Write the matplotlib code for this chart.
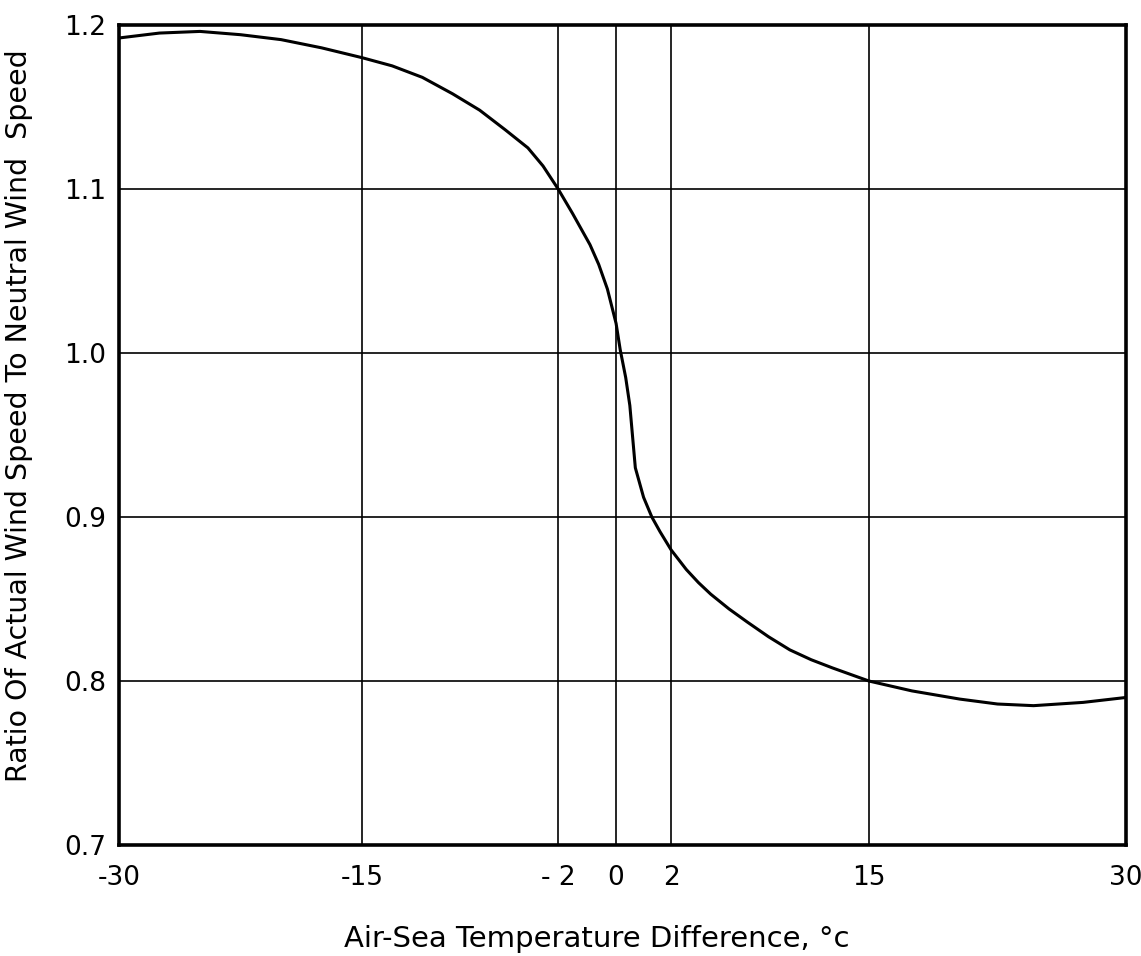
import numpy as np
import matplotlib
matplotlib.use("Agg")
import matplotlib.pyplot as plt

# Data
temp_diff = [-30, -27.5, -25, -22.5, -20, -17.5, -15, -13, -11, -9, -7.2, -5.5,
             -4, -3, -2, -1.5, -0.9, -0.6, -0.3, 0.0, 0.15, 0.35, 0.5, 0.7,
             1.0, 1.3, 1.6, 2.0, 3, 3.8, 4.6, 5.8, 7, 8.4, 9.8, 11.2, 12.6, 15,
             17.5, 20.3, 22.5, 24.6, 27.5, 30]
speed_ratio = [1.192, 1.195, 1.196, 1.194, 1.191, 1.186, 1.180, 1.175, 1.168,
               1.158, 1.148, 1.136, 1.125, 1.114, 1.100, 1.085, 1.066, 1.054,
               1.039, 1.018, 1.002, 0.985, 0.968, 0.930, 0.912, 0.900, 0.891,
               0.880, 0.868, 0.860, 0.853, 0.844, 0.836, 0.827, 0.819, 0.813,
               0.808, 0.800, 0.794, 0.789, 0.786, 0.785, 0.787, 0.790]

x_ticks = [-30, -15, -2, 0, 2, 15, 30]
x_tick_labels = ["-30", "-15", "- 2", "0", "2", "15", "30"]
y_ticks = [0.7, 0.8, 0.9, 1.0, 1.1, 1.2]
y_tick_labels = ["0.7", "0.8", "0.9", "1.0", "1.1", "1.2"]

# the original x axis is stretched around zero: piecewise linear scale
scale_pos = [0.0, 0.2413, 0.4360, 0.4936, 0.5482, 0.7448, 1.0]


def fwd(x):
    return np.interp(x, x_ticks, scale_pos)


def inv(p):
    return np.interp(p, scale_pos, x_ticks)


plt.rcParams["font.family"] = "DejaVu Sans"

fig = plt.figure(figsize=(11.41, 9.56), dpi=100)
ax = fig.add_axes([0.1043, 0.116, 0.8826, 0.858])
ax.set_xscale("function", functions=(fwd, inv))

ax.plot(temp_diff, speed_ratio, color="black", linewidth=2.2, zorder=3)

ax.set_xlim(-30, 30)
ax.set_ylim(0.7, 1.2)
ax.set_xticks(x_ticks)
ax.set_xticklabels(x_tick_labels)
ax.set_yticks(y_ticks)
ax.set_yticklabels(y_tick_labels)
ax.minorticks_off()
ax.tick_params(axis="both", length=0, labelsize=19)
ax.tick_params(axis="x", pad=14)
ax.tick_params(axis="y", pad=9)

ax.grid(True, color="black", linewidth=1.2)
for s in ax.spines.values():
    s.set_linewidth(2.6)

ax.set_xlabel("Air-Sea Temperature Difference, °c", fontsize=21)
ax.set_ylabel("Ratio Of Actual Wind Speed To Neutral Wind  Speed", fontsize=20.5)
ax.xaxis.set_label_coords(0.474, -0.098)
ax.yaxis.set_label_coords(-0.085, 0.524)

plt.savefig("out.png", dpi=100)
plt.close()
